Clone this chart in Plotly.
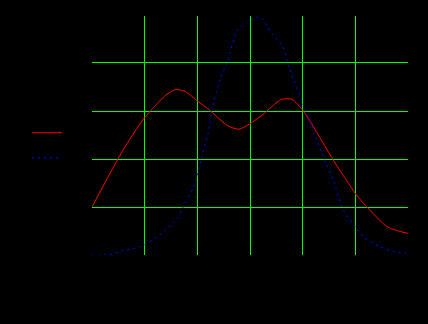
import plotly.graph_objects as go

# Series 1 (red, solid)
red_x = [0, 0.58, 0.96, 1.15, 1.40, 1.59, 1.78, 2.00, 2.23, 2.58, 2.79, 2.99, 3.24, 3.59, 3.80,
         4.00, 4.26, 4.58, 4.83, 5.02, 5.21, 5.60, 5.85, 6.00]
red_y = [1.00, 2.17, 2.81, 3.05, 3.33, 3.45, 3.40, 3.21, 3.02, 2.69, 2.62, 2.73, 2.92, 3.24, 3.24,
         3.02, 2.57, 1.98, 1.56, 1.25, 1.01, 0.59, 0.49, 0.45]

# Series 2 (blue, dotted)
blue_x = [0, 0.33, 0.58, 0.90, 1.15, 1.40, 1.62, 1.77, 1.90, 1.99, 2.07, 2.20, 2.32, 2.45, 2.58,
          2.76, 2.93, 3.12, 3.21, 3.40, 3.62, 3.75, 4.00, 4.20, 4.39, 4.58, 4.77, 5.02, 5.18,
          5.47, 5.72, 6.00]
blue_y = [0.00, 0.01, 0.09, 0.17, 0.31, 0.52, 0.76, 1.09, 1.35, 1.63, 1.98, 2.53, 3.23, 3.71, 4.06,
          4.69, 4.84, 4.95, 4.95, 4.63, 4.34, 3.89, 3.16, 2.60, 2.05, 1.56, 0.94, 0.56, 0.35,
          0.17, 0.07, 0.03]

series_names = ["f", "g"]

fig = go.Figure()
fig.add_trace(go.Scatter(x=red_x, y=red_y, mode="lines", name=series_names[0],
                         line=dict(color="#ff0000", width=1, shape="spline", smoothing=0.6)))
fig.add_trace(go.Scatter(x=blue_x, y=blue_y, mode="lines", name=series_names[1],
                         line=dict(color="#0000ff", width=1, dash="2px,4px", shape="spline", smoothing=0.6)))

fig.update_layout(
    width=428, height=324,
    margin=dict(l=92, r=20, t=16, b=69),
    paper_bgcolor="#000000", plot_bgcolor="#000000",
    font=dict(family="DejaVu Sans", size=12, color="#000000"),
    showlegend=True,
    legend=dict(x=-0.2057, y=0.4575, xanchor="left", yanchor="middle",
                bgcolor="rgba(0,0,0,0)", font=dict(size=17, color="#000000"),
                itemwidth=30, tracegroupgap=0),
    xaxis=dict(range=[0, 6], dtick=1, tick0=0, showgrid=True, gridcolor="#00ff00", gridwidth=1,
               zeroline=False, showline=True, linecolor="#000000", linewidth=2,
               tickfont=dict(color="#000000")),
    yaxis=dict(range=[0, 4.979], dtick=1, tick0=0, showgrid=True, gridcolor="#00ff00", gridwidth=1,
               zeroline=False, showline=True, linecolor="#000000", linewidth=2,
               tickfont=dict(color="#000000", size=10)),
)

fig.write_html("out.html")
